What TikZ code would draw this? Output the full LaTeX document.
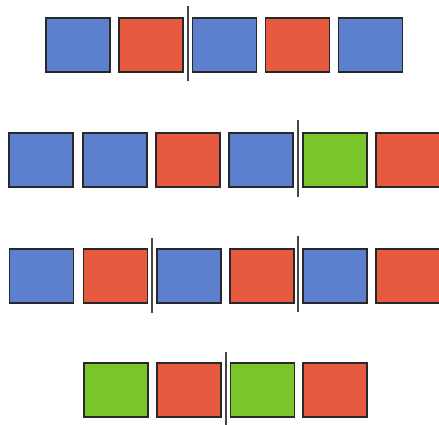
\documentclass[tikz,border=0pt]{standalone}
\definecolor{cblue}{RGB}{92,128,205}
\definecolor{cred}{RGB}{230,90,64}
\definecolor{cgreen}{RGB}{122,198,42}
\definecolor{edge}{RGB}{40,40,40}
\definecolor{divc}{RGB}{70,70,70}
\tikzset{
  cell/.style={draw=edge, line width=1.8pt, minimum width=64pt, minimum height=54pt, inner sep=0pt},
  bl/.style={cell, fill=cblue},
  rd/.style={cell, fill=cred},
  gr/.style={cell, fill=cgreen},
  divider/.style={draw=divc, line width=2pt}
}
\begin{document}
\begin{tikzpicture}[x=1pt,y=-1pt]
\useasboundingbox (0,0) rectangle (439,425);
\clip (0,0) rectangle (439,425);
% row 1
\node[bl] (a1) at (78,45) {};
\node[rd] (a2) at (151,45) {};
\node[bl] (a3) at (224.5,45) {};
\node[rd] (a4) at (297.5,45) {};
\node[bl] (a5) at (370.5,45) {};
\coordinate (d1t) at (188,6);
\coordinate (d1b) at (188,81);
\draw[divider] (d1t) -- (d1b);
% row 2
\node[bl] (b1) at (41,160) {};
\node[bl] (b2) at (115,160) {};
\node[rd] (b3) at (188,160) {};
\node[bl] (b4) at (261,160) {};
\node[gr] (b5) at (335,160) {};
\node[rd, minimum width=72pt] (b6) at (412,160) {};
\coordinate (d2t) at (298,120);
\coordinate (d2b) at (298,197);
\draw[divider] (d2t) -- (d2b);
% row 3
\node[bl] (c1) at (41.5,276) {};
\node[rd] (c2) at (115.5,276) {};
\node[bl] (c3) at (189,276) {};
\node[rd] (c4) at (262,276) {};
\node[bl] (c5) at (335,276) {};
\node[rd, minimum width=72pt] (c6) at (412,276) {};
\coordinate (d3t) at (152,238);
\coordinate (d3b) at (152,313);
\draw[divider] (d3t) -- (d3b);
\coordinate (d4t) at (298,236);
\coordinate (d4b) at (298,312);
\draw[divider] (d4t) -- (d4b);
% row 4
\node[gr] (e1) at (116,390) {};
\node[rd] (e2) at (189,390) {};
\node[gr] (e3) at (262.5,390) {};
\node[rd] (e4) at (335,390) {};
\coordinate (d5t) at (226,352);
\coordinate (d5b) at (226,425);
\draw[divider] (d5t) -- (d5b);
\end{tikzpicture}
\end{document}
